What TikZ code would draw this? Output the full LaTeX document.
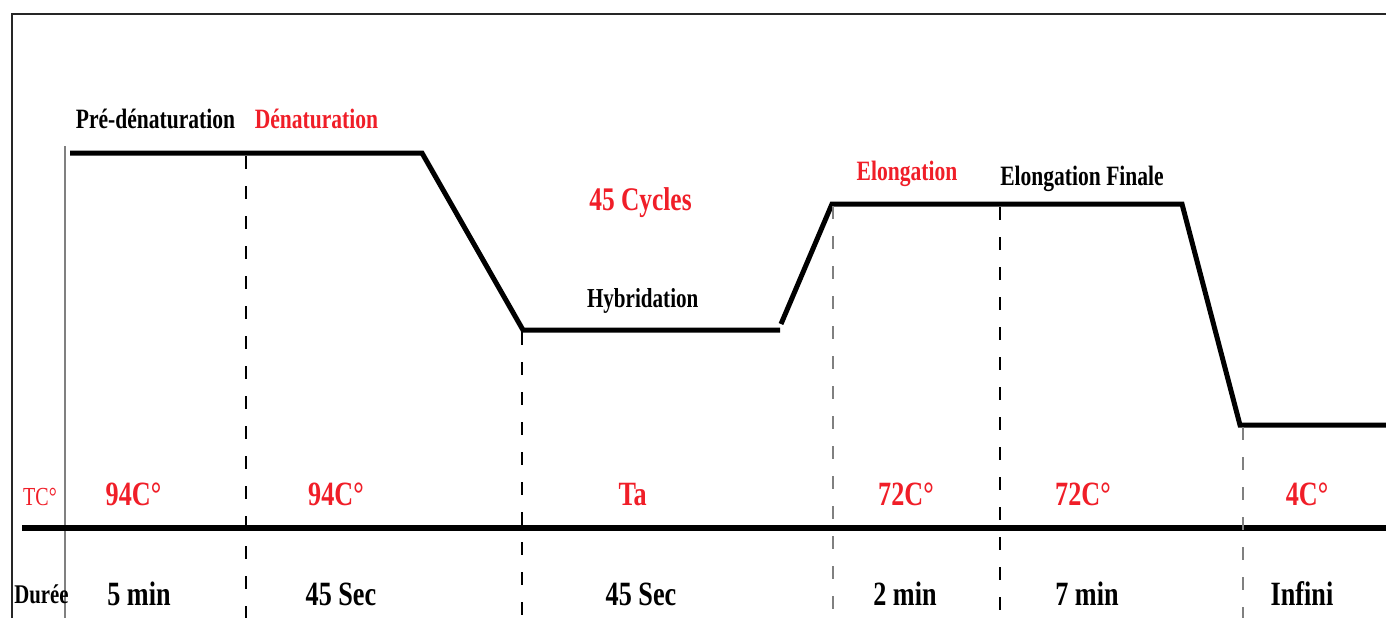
\documentclass[tikz,border=0pt]{standalone}
\usepackage{fontspec}
\setmainfont[FakeStretch=0.77]{Liberation Serif}
\definecolor{pcrred}{RGB}{240,30,40}
\begin{document}
\begin{tikzpicture}[x=0.5pt,y=-0.5pt,
  lbl/.style={inner sep=0pt, anchor=base},
  phase/.style={lbl, text=black, font=\bfseries\fontsize{14}{16}\selectfont},
  phasered/.style={phase, text=pcrred},
  temp/.style={lbl, text=pcrred, font=\bfseries\fontsize{17}{20}\selectfont},
  dur/.style={lbl, text=black, font=\bfseries\fontsize{17}{20}\selectfont},
  profile/.style={line width=2.5pt, line cap=butt, line join=miter},
  guide/.style={line width=0.8pt, dash pattern=on 6.5pt off 8.5pt},
]
\useasboundingbox (0,0) rectangle (1386,618);

% frame and axes
\draw[line width=0.8pt, black!85] (12,618) -- (12,14) -- (1386,14);
\coordinate (yaxtop) at (65,146);
\coordinate (yaxbot) at (65,618);
\draw[line width=1pt, gray] (yaxtop) -- (yaxbot);
\coordinate (xaxl) at (22,528);
\coordinate (xaxr) at (1386,528);
\draw[line width=2.6pt] (xaxl) -- (xaxr);

% temperature profile
\coordinate (p0) at (70,153);
\coordinate (p1) at (422,153);
\coordinate (p2) at (523,330);
\coordinate (p3) at (780,330);
\coordinate (p4) at (781,324);
\coordinate (p5) at (832,204);
\coordinate (p6) at (1182,204);
\coordinate (p7) at (1240,425);
\coordinate (p8) at (1386,425);
\draw[profile] (p0) -- (p1) -- (p2) -- (p3);
\draw[profile] (p4) -- (p5) -- (p6) -- (p7) -- (p8);

% phase separators
\coordinate (g1t) at (246,156);  \coordinate (g1b) at (246,618);
\coordinate (g2t) at (522,332);  \coordinate (g2b) at (522,618);
\coordinate (g3t) at (833,206);  \coordinate (g3b) at (833,618);
\coordinate (g4t) at (1000,207); \coordinate (g4b) at (1000,618);
\coordinate (g5t) at (1243,427); \coordinate (g5b) at (1243,618);
\draw[guide] (g1t) -- (g1b);
\draw[guide] (g2t) -- (g2b);
\draw[guide, gray] (g3t) -- (g3b);
\draw[guide] (g4t) -- (g4b);
\draw[guide, gray] (g5t) -- (g5b);

% phase names
\node[phase] (predenat) at (155.5,128) {Pré-dénaturation};
\node[phasered] (denat) at (316.5,128) {Dénaturation};
\node[phasered, font=\bfseries\fontsize{16.5}{19}\selectfont] (cycles) at (640.5,210) {45 Cycles};
\node[phase, font=\bfseries\fontsize{13.7}{16}\selectfont] (hybrid) at (642.7,307.5) {Hybridation};
\node[phasered] (elong) at (907,180.5) {Elongation};
\node[phase] (elongfin) at (1082,185) {Elongation Finale};

% temperatures
\node[temp, font=\fontsize{13}{15}\selectfont] (tc) at (40,505.5) {TC°};
\node[temp] (t1) at (133.5,505) {94C°};
\node[temp] (t2) at (336,505) {94C°};
\node[temp] (t3) at (632.7,505) {Ta};
\node[temp] (t4) at (906,505) {72C°};
\node[temp] (t5) at (1083,505) {72C°};
\node[temp] (t6) at (1307,505) {4C°};

% durations
\node[dur, font=\bfseries\fontsize{13.5}{16}\selectfont] (duree) at (41.5,603) {Durée};
\node[dur] (d1) at (139,605) {5 min};
\node[dur] (d2) at (341,605) {45 Sec};
\node[dur] (d3) at (641,605) {45 Sec};
\node[dur] (d4) at (905,605) {2 min};
\node[dur] (d5) at (1087,605) {7 min};
\node[dur] (d6) at (1302,605) {Infini};
\end{tikzpicture}
\end{document}
